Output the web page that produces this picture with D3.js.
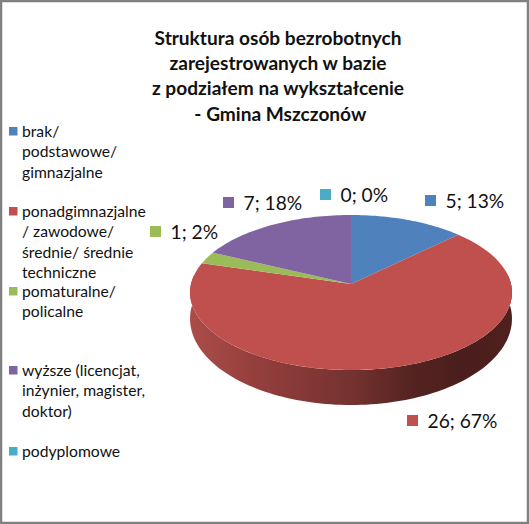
<!DOCTYPE html>
<html>
<head>
<meta charset="utf-8">
<script src="https://cdn.jsdelivr.net/npm/d3@7"></script>
<style>
html, body { margin: 0; padding: 0; background: #fff; }
svg { display: block; }
text { font-family: Lato, "Open Sans", sans-serif; fill: #111; }
</style>
</head>
<body>
<svg id="chart" width="529" height="524"></svg>
<script>
const titleLines = [
    "Struktura osób bezrobotnych",
    "zarejestrowanych w bazie",
    "z podziałem na wykształcenie",
    "\u00a0- Gmina Mszczonów"
];
const categories = [
    ["brak/", "podstawowe/", "gimnazjalne"],
    ["ponadgimnazjalne", "/ zawodowe/", "średnie/ średnie", "techniczne"],
    ["pomaturalne/", "policalne"],
    ["wyższe (licencjat,", "inżynier, magister,", "doktor)"],
    ["podyplomowe"]
];
const values = [5, 26, 1, 7, 0];
const percents = [13, 67, 2, 18, 0];
const colours = ["#4f81bd", "#c0504d", "#9bbb59", "#8064a2", "#4bacc6"];

const svg = d3.select("#chart");
const W = +svg.attr("width"), H = +svg.attr("height");

svg.append("rect")
    .attr("x", 1).attr("y", 1)
    .attr("width", W - 2).attr("height", H - 2)
    .attr("fill", "#fff").attr("stroke", "#808080").attr("stroke-width", 2.5);

// title
svg.append("g").selectAll("text").data(titleLines).join("text")
    .attr("x", 278)
    .attr("y", (d, i) => 45 + i * 25.2)
    .attr("text-anchor", "middle")
    .attr("font-weight", 700)
    .attr("font-size", 19.1)
    .text(d => d);

// the pie is a flat disc seen in perspective
const cx = 351, cy = 284, a = 160, b = 76.6, k = 0.1096, depth = 35;
const project = (t, r = 1) => {
    const u = Math.sin(t) * r, v = -Math.cos(t) * r;
    const s = 1 / (1 - k * v);
    return [cx + a * u * s, cy + b * v * s];
};

const pie = d3.pie().sort(null);
const arcs = pie(values);

const slicePath = (d) => {
    const n = Math.max(2, Math.ceil((d.endAngle - d.startAngle) * 40));
    const pts = d3.range(n + 1).map(i =>
        project(d.startAngle + (d.endAngle - d.startAngle) * i / n));
    return d3.line()([[cx, cy], ...pts]) + "Z";
};

// side wall of the red slice
const defs = svg.append("defs");
const grad = defs.append("linearGradient").attr("id", "wall")
    .attr("gradientUnits", "userSpaceOnUse")
    .attr("x1", cx - a).attr("x2", cx + a).attr("y1", 0).attr("y2", 0);
[[0, "#ab4c49"], [0.2, "#953f3d"], [0.5, "#753230"], [0.68, "#562422"], [0.85, "#491e1c"], [1, "#4f201e"]]
    .forEach(s => grad.append("stop").attr("offset", s[0]).attr("stop-color", s[1]));

const rim = d3.range(0, 121).map(i => project(Math.PI / 2 - 0.12 + (Math.PI + 0.24) * i / 120));
const wallPts = [...rim, ...rim.slice().reverse().map(p => {
    const f = (p[1] - cy) / (b / (1 - k));
    return [p[0], p[1] + depth * (0.72 + 0.28 * Math.max(0, f))];
})];
svg.append("path")
    .attr("d", d3.line()(wallPts) + "Z")
    .attr("fill", "url(#wall)");

svg.append("g").selectAll("path").data(arcs.filter(d => d.value > 0)).join("path")
    .attr("d", slicePath)
    .attr("fill", d => colours[d.index]);

// data labels
const labelPos = [[425, 195], [407, 415], [150, 226], [223, 197], [320, 189]];
const labels = svg.append("g").selectAll("g").data(values).join("g")
    .attr("transform", (d, i) => `translate(${labelPos[i][0]},${labelPos[i][1]})`);
labels.append("rect")
    .attr("width", 11).attr("height", 11)
    .attr("fill", (d, i) => colours[i]);
labels.append("text")
    .attr("x", 20.5).attr("y", 13)
    .attr("font-size", 19.2)
    .text((d, i) => `${d}; ${percents[i]}%`);

// legend
const legendY = [127, 207, 287, 366, 447];
const legend = svg.append("g").selectAll("g").data(categories).join("g")
    .attr("transform", (d, i) => `translate(9,${legendY[i]})`);
legend.append("rect")
    .attr("width", 8.5).attr("height", 8.5)
    .attr("fill", (d, i) => colours[i]);
legend.selectAll("text").data(d => d).join("text")
    .attr("x", 13)
    .attr("y", (d, i) => 10 + i * 20.4)
    .attr("font-size", 15.7)
    .text(d => d);
</script>
</body>
</html>
